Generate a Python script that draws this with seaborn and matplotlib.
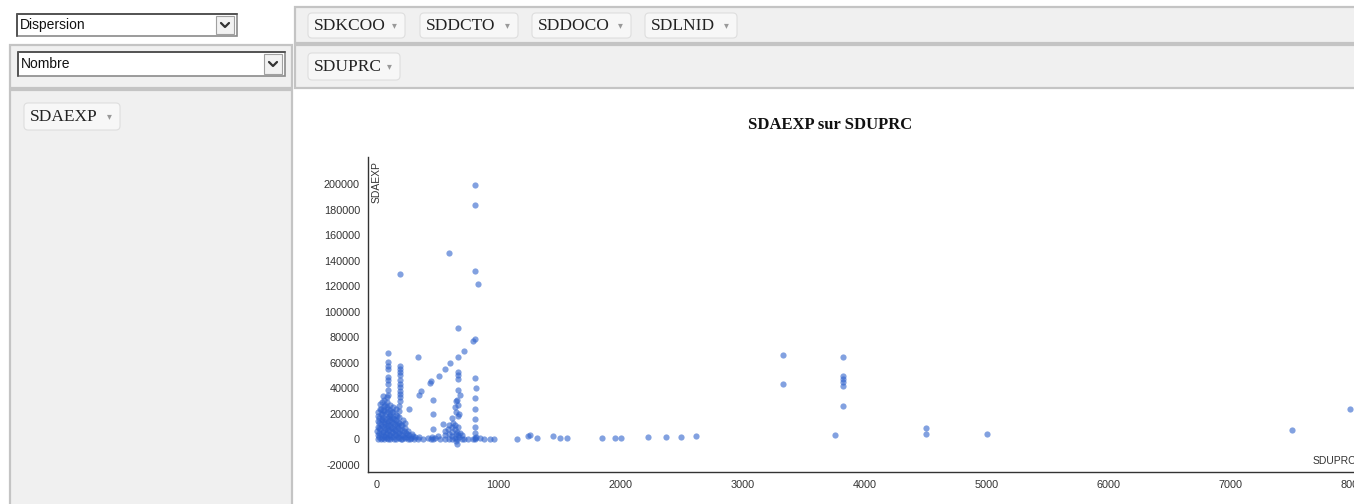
#!/usr/bin/env python3
import pandas as pd
import seaborn as sns
import matplotlib.pyplot as plt
from matplotlib.patches import Rectangle, FancyBboxPatch

# dense blob near the origin (SDUPRC, SDAEXP)
blob_x = [8, 12, 5, 14, 9, 16, 11,
	33, 38, 30, 36, 41, 34, 39, 31,
	58, 62, 55, 64, 60, 57, 63, 59, 61, 56,
	84, 88, 82, 86, 90, 83, 87, 85, 89,
	108, 112, 105, 114, 110, 107, 113, 109,
	133, 137, 130, 136, 139, 132, 135,
	158, 162, 155, 164, 160, 157, 161,
	183, 187, 180, 186, 184, 188, 182, 189,
	208, 213, 205, 211, 215,
	233, 238, 230, 236,
	258, 263, 255,
	283, 288,
	308, 314,
	338, 345,
	378, 420, 448, 455]
blob_y = [0, 3000, 6500, 10000, 14000, 18000, 21000,
	500, 4000, 8000, 12000, 16000, 20000, 24000, 27500,
	0, 2500, 6000, 9500, 13500, 17500, 22000, 26000, 31000, 34000,
	1000, 5000, 8500, 12500, 16500, 21000, 25000, 29000, 33000,
	0, 3500, 7500, 11000, 15000, 19000, 23000, 27000,
	1500, 5500, 9000, 13000, 17000, 21500, 25500,
	0, 3000, 7000, 11000, 15000, 19000, 24000,
	1000, 5000, 9000, 13000, 17500, 22000, 26000, 30000,
	0, 3500, 7500, 11500, 15000,
	1000, 5000, 9000, 12500,
	0, 3000, 6500,
	1000, 4000,
	0, 2000,
	500, 1500,
	0, 800, 0, 2000]
blob2_x = [22, 24, 20, 23, 21, 25,
	47, 49, 45, 48, 46, 50, 44,
	72, 74, 70, 73, 71, 75, 69,
	97, 99, 95, 98, 96, 100, 94,
	122, 124, 120, 123, 121, 125,
	147, 149, 145, 148, 146,
	172, 174, 170, 173, 171,
	197, 199, 195, 198, 222, 224, 248, 250, 272, 296]
blob2_y = [1500, 5000, 9000, 13000, 17000, 24000,
	1000, 5500, 10500, 15000, 19500, 23000, 29000,
	1500, 4500, 8000, 12000, 16000, 20000, 27000,
	0, 3500, 7000, 11000, 14500, 18500, 23500,
	2000, 5500, 9500, 13500, 17500, 21000,
	0, 4000, 8000, 12000, 16000,
	1500, 5000, 9500, 13500, 18000,
	0, 3500, 7500, 11000, 2000, 6500, 1500, 4500, 500, 2500]
# vertical runs
col93_x = [93, 92, 94, 93, 92, 95, 93, 91, 94]
col93_y = [67400, 60400, 57800, 55200, 48700, 46100, 43500, 38300, 35000]
col191_x = [191, 190, 192, 191, 190, 192, 191, 190, 192, 191]
col191_y = [57800, 55200, 52600, 50000, 46100, 43000, 40900, 38000, 35700, 33000]
# second cluster around 600-700
sec_x = [560, 565, 558, 590, 593, 588, 596, 618, 622, 615, 620, 624, 619, 645, 648, 642, 646, 650, 644, 652,
	663, 666, 661, 667, 664, 668, 662, 665, 667, 666, 664, 680, 683, 678, 681, 700, 703, 660, 650]
sec_y = [0, 3000, 6500, 500, 4000, 8000, 11000, 0, 2500, 6000, 9500, 13000, 17000, 1000, 4500, 8000, 11500, 21000, 25000, 30000,
	0, 3000, 6000, 10000, 18000, 27000, 31000, 39000, 47000, 50000, 53000, 1500, 5000, 20000, 35000, 500, 3000, -3500, -1500]
mid_x = [464, 464, 464, 464, 482, 503, 522, 543, 265]
mid_y = [31000, 20000, 8000, 0, 1000, 2500, 0, 12200, 24000]
col810_x = [810, 812, 808, 810, 811, 809, 810, 812, 810, 808]
col810_y = [0, 2000, 5000, 10000, 16000, 24000, 32000, 40000, 48000, 1000]
diag_x = [346, 368, 440, 450, 510, 565, 605, 666, 715, 791, 810]
diag_y = [34400, 37500, 44000, 45500, 49500, 54700, 59600, 64300, 69500, 77300, 78600]
out_x = [196, 592, 810, 810, 810, 829, 666, 338]
out_y = [129400, 145900, 199200, 183300, 132000, 121600, 87000, 64300]
tail_x = [720, 750, 790, 850, 880, 930, 960, 1150, 1244, 1256, 1312, 1447, 1500, 1562, 1844, 1953, 2000, 2225, 2369, 2494, 2616, 3759]
tail_y = [0, 500, 0, 800, 0, 600, 0, 600, 2800, 3400, 700, 2800, 800, 800, 900, 900, 900, 1800, 1800, 2000, 2200, 3600]
far_x = [3333, 3333, 3827, 3827, 3827, 3827, 3827, 3827, 4501, 4501, 5003, 7501, 7980]
far_y = [66100, 43000, 64600, 49500, 47400, 44800, 41600, 26300, 8800, 3900, 4400, 7000, 23400]

x_ticks = [0, 1000, 2000, 3000, 4000, 5000, 6000, 7000, 8000]
y_ticks = [-20000, 0, 20000, 40000, 60000, 80000, 100000, 120000, 140000, 160000, 180000, 200000]

top_pills = ['SDKCOO', 'SDDCTO', 'SDDOCO', 'SDLNID']
col_pills = ['SDUPRC']
row_pills = ['SDAEXP']

PANEL = '#f0f0f0'
PANEL_EDGE = '#c4c4c4'
DOT = '#2f62cc'


def build_frame():
	groups = [(blob_x, blob_y), (blob2_x, blob2_y), (col93_x, col93_y), (col191_x, col191_y),
		(sec_x, sec_y), (mid_x, mid_y), (col810_x, col810_y), (diag_x, diag_y),
		(out_x, out_y), (tail_x, tail_y), (far_x, far_y)]
	frames = [pd.DataFrame({'SDUPRC': gx, 'SDAEXP': gy}) for gx, gy in groups]
	return pd.concat(frames, ignore_index=True)


def panel(ax, x, y, w, h):
	ax.add_patch(Rectangle((x, y), w, h, facecolor=PANEL, edgecolor=PANEL_EDGE, lw=1.6))


def pill(ax, x0, x1, y0, y1, label):
	ax.add_patch(FancyBboxPatch((x0, y0), x1 - x0, y1 - y0, boxstyle='round,pad=0,rounding_size=4',
		facecolor='#f7f7f7', edgecolor='#dedede', lw=0.8))
	yc = (y0 + y1) / 2
	ax.text(x0 + 6, yc + 0.5, label, ha='left', va='center', fontsize=12.5,
		family='Liberation Serif', color='#222222')
	ax.text(x1 - 11, yc - 0.5, '\u25be', ha='center', va='center', fontsize=7,
		family='DejaVu Sans', color='#999999')


def dropdown(ax, x, y, w, h, label):
	ax.add_patch(Rectangle((x, y), w, h, facecolor='white', edgecolor='#8a8a8a', lw=1.2))
	ax.plot([x, x, x + w], [y + h, y, y], color='#555555', lw=1.4)
	bx = x + w - 21
	ax.add_patch(Rectangle((bx, y + 2), 18, h - 4, facecolor='#f2f2f2', edgecolor='#a0a0a0', lw=0.8))
	cx = bx + 9
	cy = y + h / 2
	ax.plot([cx - 4, cx, cx + 4], [cy - 2, cy + 2, cy - 2], color='#333333', lw=1.6)
	ax.text(x + 3, cy + 0.5, label, ha='left', va='center', fontsize=10,
		family='Liberation Sans', color='#111111', stretch='condensed')


def draw_ui(fig):
	ax = fig.add_axes([0, 0, 1, 1])
	ax.set_xlim(0, 1354)
	ax.set_ylim(504, 0)
	ax.axis('off')
	panel(ax, 295, 7, 1062, 36)
	panel(ax, 10, 45, 282, 43)
	panel(ax, 295, 45, 1062, 43)
	panel(ax, 10, 90, 282, 420)
	dropdown(ax, 17, 14, 220, 22, 'Dispersion')
	dropdown(ax, 18, 52, 267, 24, 'Nombre')
	spans = [(308, 405), (420, 518), (532, 631), (645, 737)]
	for (x0, x1), lab in zip(spans, top_pills):
		pill(ax, x0, x1, 13, 38, lab)
	pill(ax, 308, 400, 53, 80, col_pills[0])
	pill(ax, 24, 120, 103, 130, row_pills[0])
	ax.text(830, 125, 'SDAEXP sur SDUPRC', ha='center', va='center', fontsize=12,
		fontweight='bold', family='Liberation Serif', color='#111111')
	ax.text(377, 161, 'SDAEXP', rotation=90, ha='center', va='top', fontsize=7.5,
		family='Liberation Sans', color='#333333')
	ax.text(1356, 461, 'SDUPRC', ha='right', va='center', fontsize=7.5,
		family='Liberation Sans', color='#333333')
	return ax


def plot_scatter(df, outfile):
	fig = plt.figure(figsize=(13.54, 5.04), dpi=100)
	draw_ui(fig)
	ax = fig.add_axes([368 / 1354, (504 - 471.7) / 504, (1354 - 368) / 1354, (471.7 - 157.3) / 504])
	ax.patch.set_alpha(0)
	sns.scatterplot(data=df, x='SDUPRC', y='SDAEXP', ax=ax, color=DOT, s=20, alpha=0.6,
		linewidth=0, legend=False)
	ax.set_xlim(-70, 8012)
	ax.set_ylim(-25380, 220900)
	ax.set_xticks(x_ticks)
	ax.set_yticks(y_ticks)
	ax.set_xticklabels([str(v) for v in x_ticks])
	ax.set_yticklabels([str(v) for v in y_ticks])
	ax.set_xticks([-70], minor=True)
	ax.set_yticks([220900], minor=True)
	ax.set_xlabel('')
	ax.set_ylabel('')
	for side in ['top', 'right']:
		ax.spines[side].set_visible(False)
	for side in ['left', 'bottom']:
		ax.spines[side].set_color('#333333')
		ax.spines[side].set_linewidth(1.0)
	ax.tick_params(axis='both', which='both', direction='out', length=4.3, width=0.8,
		color='#333333', labelsize=7.8, labelcolor='#333333', pad=1.5)
	for lab in ax.get_xticklabels() + ax.get_yticklabels():
		lab.set_family('Liberation Sans')
	fig.savefig(outfile, dpi=100)
	plt.close(fig)


def main():
	sns.set_style('white')
	plt.rcParams['font.family'] = ['Liberation Sans', 'DejaVu Sans']
	df = build_frame()
	plot_scatter(df, 'out.png')


if __name__ == '__main__':
	main()
